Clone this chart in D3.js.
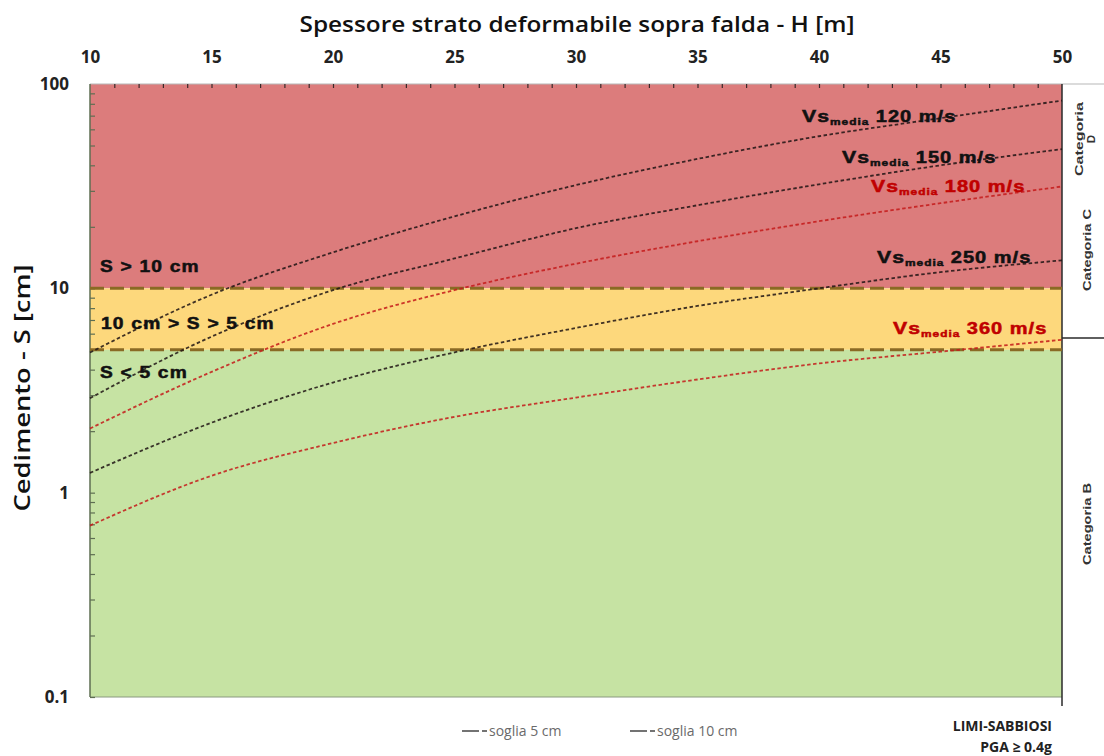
<!DOCTYPE html>
<html><head><meta charset="utf-8">
<script src="https://cdn.jsdelivr.net/npm/d3@7"></script>
<style>body{margin:0;background:#fff;} svg{display:block;}</style>
</head><body>
<svg id="chart" width="1104" height="756"></svg>
<script>
// ---- data ----
const H = [10, 15, 20, 25, 30, 35, 40, 45, 50];
const vs120 = [4.85, 9.3, 15.0, 22.5, 32, 43, 55.5, 68, 83];
const vs150 = [2.9, 5.8, 9.8, 14.0, 19.7, 25.5, 32.3, 40, 48];
const vs180 = [2.06, 3.9, 6.7, 9.8, 13.2, 17.0, 21.3, 26.1, 31.5];
const vs250 = [1.25, 2.2, 3.46, 4.86, 6.4, 8.2, 10.0, 12.0, 13.7];
const vs360 = [0.69, 1.21, 1.75, 2.35, 2.92, 3.58, 4.29, 4.9, 5.6];
const velocities = [120, 150, 180, 250, 360];
const seriesValues = [vs120, vs150, vs180, vs250, vs360];
const xTicks = [10, 15, 20, 25, 30, 35, 40, 45, 50];
const yTicks = [0.1, 1, 10, 100];
const bandBounds = [100, 10, 5, 0.1];
const bandLabels = ["S > 10 cm", "10 cm > S > 5 cm", "S < 5 cm"];
const thresholds = [5, 10];
const legendLabels = ["soglia 5 cm", "soglia 10 cm"];
const categoryLabels = [["Categoria", "D"], ["Categoria C"], ["Categoria B"]];
const xTitle = "Spessore strato deformabile sopra falda - H [m]";
const yTitle = "Cedimento - S [cm]";

// ---- styles / layout ----
const bandColors = ["#dc7c7c", "#fdd87c", "#c6e3a3"];
const lineColors = ["#1e1414", "#1e1414", "#c41a1a", "#1e1414", "#c41a1a"];
const labelColors = ["#111", "#111", "#c00000", "#111", "#c00000"];
const labelPos = [[802, 122], [842, 163], [871, 192], [877, 263], [893, 334]];
const bandLabelPos = [[100, 272], [101, 329], [100, 378]];

const svg = d3.select("#chart");
const x = d3.scaleLinear().domain([10, 50]).range([90, 1062]);
const y = d3.scaleLog().domain([0.1, 100]).range([697, 84]);

// bands
svg.append("g").selectAll("rect").data(bandLabels).join("rect")
  .attr("x", x(10)).attr("width", x(50) - x(10))
  .attr("y", (d, i) => y(bandBounds[i]))
  .attr("height", (d, i) => y(bandBounds[i + 1]) - y(bandBounds[i]))
  .attr("fill", (d, i) => bandColors[i]);

// frame lines
svg.append("line").attr("x1", 90).attr("x2", 1104).attr("y1", 84).attr("y2", 84).attr("stroke", "#b8b8b8").attr("stroke-width", 1.2);
svg.append("line").attr("x1", 90).attr("x2", 1062).attr("y1", 697).attr("y2", 697).attr("stroke", "#8a9a80").attr("stroke-width", 1.2);
svg.append("line").attr("x1", 90).attr("x2", 90).attr("y1", 84).attr("y2", 697).attr("stroke", "#5e6e52").attr("stroke-width", 1.5);
svg.append("line").attr("x1", 1062).attr("x2", 1062).attr("y1", 84).attr("y2", 706).attr("stroke", "#2a2a2a").attr("stroke-width", 1.5);
svg.append("line").attr("x1", 1062).attr("x2", 1104).attr("y1", 338).attr("y2", 338).attr("stroke", "#2a2a2a").attr("stroke-width", 1.3);

// minor ticks top (inside)
const topMinor = svg.append("g").attr("transform", "translate(0,84)")
  .call(d3.axisBottom(x).tickValues(d3.range(11, 50)).tickSize(4).tickFormat(""));
topMinor.select(".domain").remove();
topMinor.selectAll("line").attr("stroke", "#3a2a2a").attr("stroke-width", 1.2);

// minor ticks left (inside)
const leftMinorVals = [];
[0.1, 1, 10].forEach(d => { for (let k = 1; k <= 9; k++) leftMinorVals.push(d * k); });
const leftMinor = svg.append("g").attr("transform", "translate(90,0)")
  .call(d3.axisRight(y).tickValues(leftMinorVals).tickSize(5).tickFormat(""));
leftMinor.select(".domain").remove();
leftMinor.selectAll("line").attr("stroke", "#5e6e52").attr("stroke-width", 1.2);

// top axis labels
const topAxis = svg.append("g").attr("transform", "translate(0,70)")
  .call(d3.axisTop(x).tickValues(xTicks).tickSize(0).tickPadding(7).tickFormat(d3.format("d")));
topAxis.select(".domain").remove();
topAxis.selectAll("text").attr("font-family", "Open Sans").attr("font-weight", 700)
  .attr("font-size", 17).attr("fill", "#222");

// left axis labels
const leftAxis = svg.append("g").attr("transform", "translate(90,0)")
  .call(d3.axisLeft(y).tickValues(yTicks).tickSize(0).tickPadding(21).tickFormat(d => String(d)));
leftAxis.select(".domain").remove();
leftAxis.selectAll("text").attr("font-family", "Open Sans").attr("font-weight", 700)
  .attr("font-size", 17).attr("fill", "#222");

// titles
svg.append("text").attr("x", 577).attr("y", 32).attr("text-anchor", "middle")
  .attr("font-family", "Open Sans").attr("font-weight", 600).attr("font-size", 22)
  .attr("textLength", 555).attr("lengthAdjust", "spacingAndGlyphs").attr("fill", "#111")
  .text(xTitle);
svg.append("text").attr("transform", "translate(30,388) rotate(-90)").attr("text-anchor", "middle")
  .attr("font-family", "Open Sans").attr("font-weight", 600).attr("font-size", 21)
  .attr("textLength", 247).attr("lengthAdjust", "spacingAndGlyphs").attr("fill", "#111")
  .text(yTitle);

// threshold lines
svg.append("g").selectAll("line").data(thresholds).join("line")
  .attr("x1", x(10)).attr("x2", x(50))
  .attr("y1", d => y(d)).attr("y2", d => y(d))
  .attr("stroke", "#8a6a24").attr("stroke-width", 3).attr("stroke-dasharray", "14,6");

// curves
const line = d3.line().x(d => x(d[0])).y(d => y(d[1])).curve(d3.curveMonotoneX);
svg.append("g").selectAll("path").data(seriesValues).join("path")
  .attr("d", vals => line(H.map((h, i) => [h, vals[i]])))
  .attr("fill", "none")
  .attr("stroke", (d, i) => lineColors[i])
  .attr("stroke-opacity", 0.85)
  .attr("stroke-width", 1.8)
  .attr("stroke-dasharray", "3.5,2.5");

// band labels
bandLabels.forEach((t, i) => {
  svg.append("g").attr("transform", `translate(${bandLabelPos[i][0]},${bandLabelPos[i][1]}) scale(1.2,1)`)
    .append("text").attr("font-family", "Liberation Sans").attr("font-weight", 700)
    .attr("font-size", 16).attr("letter-spacing", 1).attr("fill", "#111")
    .attr("stroke", "#111").attr("stroke-width", 0.5)
    .text(t);
});

// curve labels
velocities.forEach((v, i) => {
  const t = svg.append("g").attr("transform", `translate(${labelPos[i][0]},${labelPos[i][1]}) scale(1.25,1)`)
    .append("text").attr("font-family", "Liberation Sans").attr("font-weight", 700)
    .attr("letter-spacing", 0.8).attr("fill", labelColors[i])
    .attr("stroke", labelColors[i]).attr("stroke-width", 0.5);
  t.append("tspan").attr("font-size", 17).text("Vs");
  t.append("tspan").attr("font-size", 9.5).attr("dy", 3).text("media");
  t.append("tspan").attr("font-size", 16).attr("dy", -3).text(" " + v + " m/s");
});

// category labels (right strip)
const catPos = [[1080, 139, 74], [1088, 250, 82], [1088, 524, 82]];
categoryLabels.forEach((lines, i) => {
  const [cx, cy, len] = catPos[i];
  lines.forEach((s, j) => {
    const t = svg.append("text")
      .attr("transform", `translate(${cx + j * 12},${cy}) rotate(-90)`)
      .attr("text-anchor", "middle").attr("dominant-baseline", "middle")
      .attr("font-family", "Liberation Sans").attr("font-weight", 700).attr("font-size", 11.5)
      .attr("fill", "#333").text(s);
    if (s.length > 2) t.attr("textLength", len).attr("lengthAdjust", "spacingAndGlyphs");
  });
});

// legend
const legX = [462, 630];
legendLabels.forEach((s, i) => {
  const g = svg.append("g").attr("transform", `translate(${legX[i]},731)`);
  g.append("line").attr("x1", 0).attr("x2", 17).attr("y1", 0).attr("y2", 0).attr("stroke", "#444").attr("stroke-width", 1.5);
  g.append("line").attr("x1", 20).attr("x2", 25).attr("y1", 0).attr("y2", 0).attr("stroke", "#444").attr("stroke-width", 1.5);
  g.append("text").attr("x", 27).attr("y", 5).attr("font-family", "Open Sans").attr("font-size", 14)
    .attr("fill", "#6a6a6a").text(s);
});

// note bottom right
svg.append("text").attr("x", 1052).attr("y", 731).attr("text-anchor", "end")
  .attr("font-family", "Open Sans").attr("font-weight", 700).attr("font-size", 14).attr("fill", "#222")
  .text("LIMI-SABBIOSI");
svg.append("text").attr("x", 1052).attr("y", 752).attr("text-anchor", "end")
  .attr("font-family", "Open Sans").attr("font-weight", 700).attr("font-size", 14).attr("fill", "#222")
  .text("PGA ≥ 0.4g");
</script>
</body></html>
